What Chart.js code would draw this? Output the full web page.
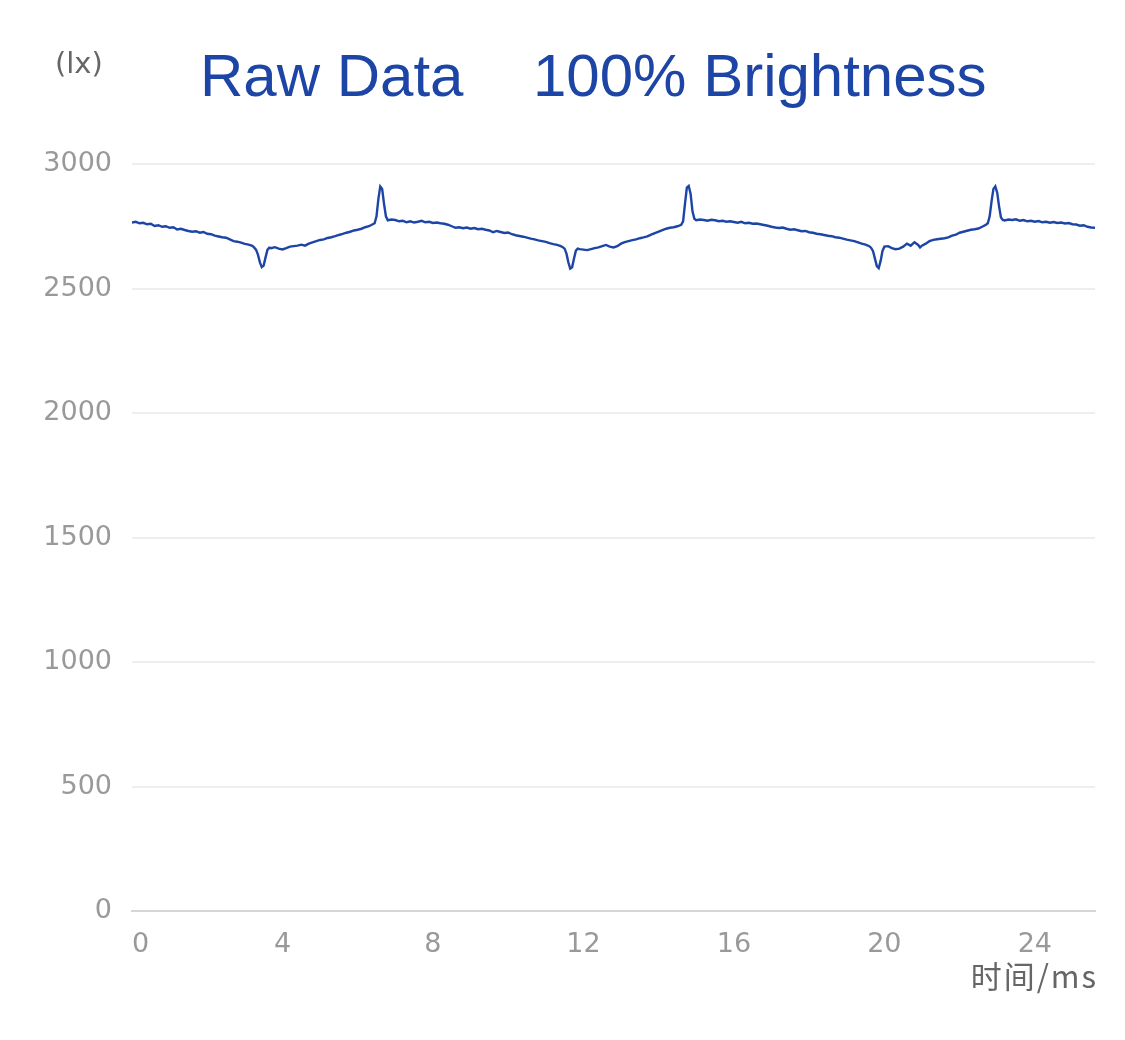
<!DOCTYPE html>
<html>
<head>
<meta charset="utf-8">
<script src="https://cdn.jsdelivr.net/npm/chart.js@4.4.1/dist/chart.umd.min.js"></script>
<style>
  html, body { margin: 0; padding: 0; background: #fff; }
  #wrap { width: 1125px; height: 1040px; }
</style>
</head>
<body>
<div id="wrap"><canvas id="myChart" width="1125" height="1040"></canvas></div>
<script>
"use strict";

// time axis (ms) and illuminance readings (lx)
const timeMs = [
  0.0, 0.1, 0.2, 0.3, 0.4, 0.5, 0.6, 0.7, 0.8, 0.9, 1.0, 1.1, 1.2, 1.3, 1.4, 1.5, 1.6, 1.7, 1.8, 1.9,
  2.0, 2.1, 2.2, 2.3, 2.4, 2.5, 2.6, 2.7, 2.8, 2.9, 3.0, 3.1, 3.2, 3.25, 3.3, 3.35, 3.4, 3.45, 3.5, 3.55,
  3.6, 3.65, 3.7, 3.8, 3.9, 4.0, 4.1, 4.2, 4.3, 4.4, 4.5, 4.6, 4.7, 4.8, 4.9, 5.0, 5.1, 5.2, 5.3, 5.4,
  5.5, 5.6, 5.7, 5.8, 5.9, 6.0, 6.1, 6.2, 6.3, 6.4, 6.45, 6.5, 6.55, 6.6, 6.65, 6.7, 6.75, 6.8, 6.9, 7.0,
  7.1, 7.2, 7.3, 7.4, 7.5, 7.6, 7.7, 7.8, 7.9, 8.0,
  8.1, 8.2, 8.3, 8.4, 8.5, 8.6, 8.7, 8.8, 8.9, 9.0, 9.1, 9.2, 9.3, 9.4, 9.5, 9.6, 9.7, 9.8, 9.9, 10.0,
  10.1, 10.2, 10.3, 10.4, 10.5, 10.6, 10.7, 10.8, 10.9, 11.0, 11.1, 11.2, 11.3, 11.4, 11.45, 11.5, 11.55, 11.6, 11.65, 11.7,
  11.75, 11.8, 11.85, 11.9, 12.0, 12.1, 12.2, 12.3, 12.4, 12.5, 12.6, 12.7, 12.8, 12.9, 13.0, 13.1, 13.2, 13.3, 13.4, 13.5,
  13.6, 13.7, 13.8, 13.9, 14.0, 14.1, 14.2, 14.3, 14.4, 14.5, 14.6, 14.65, 14.7, 14.75, 14.8, 14.85, 14.9, 14.95, 15.0, 15.1,
  15.2, 15.3, 15.4, 15.5, 15.6, 15.7, 15.8, 15.9, 16.0, 16.1, 16.2, 16.3, 16.4, 16.5, 16.6, 16.7,
  16.8, 16.9, 17.0, 17.1, 17.2, 17.3, 17.4, 17.5, 17.6, 17.7, 17.8, 17.9, 18.0, 18.1, 18.2, 18.3, 18.4, 18.5, 18.6, 18.7,
  18.8, 18.9, 19.0, 19.1, 19.2, 19.3, 19.4, 19.5, 19.6, 19.65, 19.7, 19.75, 19.8, 19.85, 19.9, 19.95, 20.0, 20.1, 20.2, 20.3,
  20.4, 20.5, 20.6, 20.7, 20.8, 20.9, 20.95, 21.0, 21.1, 21.2, 21.3, 21.4, 21.5, 21.6, 21.7, 21.8, 21.9, 22.0, 22.1, 22.2,
  22.3, 22.4, 22.5, 22.6, 22.7, 22.75, 22.8, 22.85, 22.9, 22.95, 23.0, 23.05, 23.1, 23.15, 23.2, 23.3, 23.4, 23.5, 23.6, 23.7,
  23.8, 23.9, 24.0, 24.1, 24.2, 24.3, 24.4, 24.5, 24.6, 24.7, 24.8, 24.9, 25.0, 25.1, 25.2, 25.3, 25.4, 25.5, 25.6
];

const lux = [
  2765, 2768, 2762, 2764, 2758, 2760, 2751, 2754, 2748, 2750, 2744, 2746, 2737, 2740, 2735, 2731, 2728, 2730, 2724, 2727,
  2720, 2718, 2712, 2709, 2706, 2704, 2697, 2690, 2688, 2684, 2679, 2676, 2671, 2664, 2655, 2635, 2605, 2586, 2592, 2625,
  2655, 2664, 2662, 2666, 2660, 2657, 2662, 2668, 2670, 2672, 2676, 2672, 2680, 2685, 2690, 2695, 2697, 2703, 2706, 2710,
  2715, 2719, 2724, 2728, 2733, 2736, 2740, 2746, 2750, 2758, 2762, 2790, 2860, 2910, 2900, 2840, 2790, 2774, 2777, 2775,
  2770, 2772, 2766, 2770, 2765, 2768, 2772, 2766, 2768, 2763,
  2765, 2762, 2760, 2756, 2750, 2744, 2746, 2742, 2745, 2740, 2743, 2738, 2740, 2736, 2733, 2726, 2731, 2727, 2723, 2725,
  2718, 2714, 2711, 2708, 2704, 2700, 2697, 2693, 2690, 2687, 2682, 2678, 2675, 2670, 2666, 2660, 2640, 2605, 2580, 2585,
  2620, 2652, 2660, 2658, 2656, 2654, 2658, 2662, 2665, 2670, 2675, 2668, 2665, 2670, 2680, 2686, 2690, 2694, 2697, 2702,
  2705, 2709, 2716, 2722, 2728, 2734, 2740, 2744, 2746, 2750, 2756, 2770, 2840, 2905, 2912, 2880, 2810, 2780, 2774, 2777,
  2775, 2772, 2776, 2774, 2770, 2772, 2768, 2770, 2767, 2764, 2768, 2762, 2764, 2760, 2761, 2758,
  2755, 2752, 2748, 2745, 2743, 2745, 2740, 2736, 2738, 2734, 2730, 2731, 2726, 2724, 2720, 2718, 2715, 2712, 2710, 2706,
  2704, 2700, 2696, 2693, 2690, 2685, 2680, 2676, 2670, 2663, 2650, 2620, 2590, 2582, 2610, 2650, 2668, 2670, 2662, 2658,
  2660, 2668, 2680, 2672, 2686, 2675, 2665, 2672, 2680, 2690, 2695, 2698, 2700, 2702, 2705, 2712, 2716, 2724, 2728, 2732,
  2736, 2738, 2741, 2748, 2756, 2762, 2790, 2850, 2900, 2910, 2885, 2830, 2785, 2775, 2773, 2777, 2775, 2778, 2772, 2775,
  2770, 2772, 2768, 2771, 2766, 2768, 2764, 2767, 2763, 2765, 2761, 2763, 2758, 2757, 2752, 2754, 2748, 2745, 2744
];

const yTicks = [0, 500, 1000, 1500, 2000, 2500, 3000];
const xTicks = [0, 4, 8, 12, 16, 20, 24];
const titleParts = ["Raw Data", "100% Brightness"];
const yUnit = "(lx)";
const xUnit = "时间/ms";

const blue = "#1d45a6";
const tickFont = { family: "DejaVu Sans", size: 27 };

// extra texts: title, unit labels
const textPlugin = {
  id: "texts",
  afterDraw(chart) {
    const ctx = chart.ctx;
    ctx.save();
    ctx.textBaseline = "alphabetic";
    ctx.fillStyle = blue;
    ctx.font = "60px 'Liberation Sans', Arial, sans-serif";
    ctx.textAlign = "left";
    ctx.fillText(titleParts[0], 200, 96);
    ctx.fillText(titleParts[1], 533, 96);

    ctx.fillStyle = "#666";
    ctx.font = "29px 'DejaVu Sans', sans-serif";
    ctx.fillText(yUnit, 55, 73);

    ctx.textAlign = "right";
    ctx.font = "31px 'Noto Sans CJK SC', 'DejaVu Sans', sans-serif";
    ctx.letterSpacing = "2px";
    ctx.fillText(xUnit, 1098, 988);
    ctx.restore();
  },
};

function myChart() {
  let ctx = document.getElementById("myChart").getContext("2d");
  new Chart(ctx, {
    type: "line",
    data: {
      datasets: [{
        data: timeMs.map((t, i) => ({ x: t, y: lux[i] })),
        borderColor: blue,
        borderWidth: 2.4,
        pointRadius: 0,
        tension: 0,
        fill: false,
      }],
    },
    options: {
      responsive: false,
      animation: false,
      devicePixelRatio: 1,
      layout: { padding: { top: 164, right: 30, bottom: 0, left: 0 } },
      plugins: { legend: { display: false }, tooltip: { enabled: false } },
      scales: {
        x: {
          type: "linear",
          min: 0,
          max: 25.6,
          afterBuildTicks: (scale) => { scale.ticks = xTicks.map((v) => ({ value: v })); },
          afterFit: (scale) => { scale.height = 129; },
          grid: { display: false, drawTicks: false },
          border: { display: true, color: "#d6d6d6", width: 2 },
          ticks: {
            padding: 18,
            color: "#999",
            font: tickFont,
            maxRotation: 0,
            callback: (v) => (v === 0 ? "  0" : String(v)),
          },
        },
        y: {
          min: 0,
          max: 3000,
          afterBuildTicks: (scale) => { scale.ticks = yTicks.map((v) => ({ value: v })); },
          afterFit: (scale) => { scale.width = 132; },
          grid: { color: "#eeeeee", lineWidth: 2, drawTicks: false },
          border: { display: false },
          ticks: { padding: 20, color: "#999", font: tickFont, callback: (v) => String(v) },
        },
      },
    },
    plugins: [textPlugin],
  });
}

myChart();
</script>
</body>
</html>
